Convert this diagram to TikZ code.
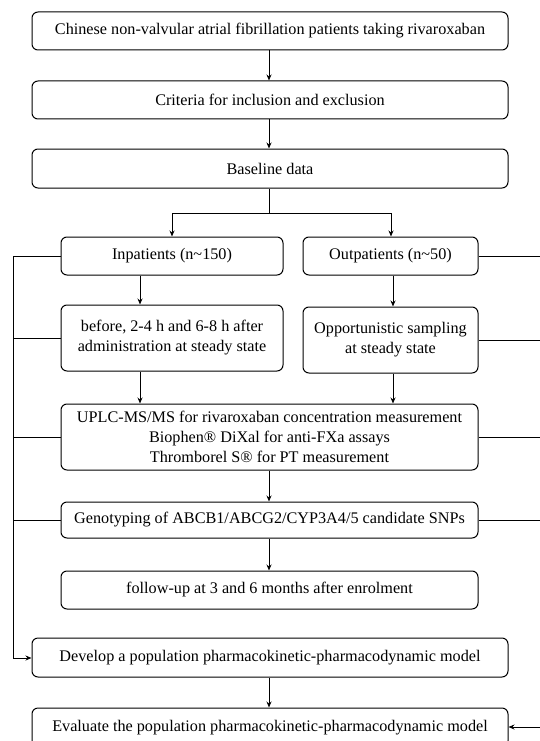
\documentclass[tikz,border=0pt]{standalone}
\usepackage{fontspec}
\setmainfont{Liberation Serif}
\usetikzlibrary{arrows.meta}
\begin{document}
\begin{tikzpicture}[x=1pt,y=-1pt,
  box/.style={draw, line width=1pt, rounded corners=6pt, align=center, inner sep=0pt,
    font=\fontsize{16.2}{20}\selectfont},
  conn/.style={line width=1pt},
  arr/.style={line width=1pt, -{Stealth[length=6pt,width=5pt]}}]
\useasboundingbox (0,0) rectangle (539,741);
\node[box, minimum width=476pt, minimum height=38pt] (b1) at (270,31) {Chinese non-valvular atrial fibrillation patients taking rivaroxaban};
\node[box, minimum width=476pt, minimum height=38pt] (b2) at (270,100) {Criteria for inclusion and exclusion};
\node[box, minimum width=476pt, minimum height=39pt] (b3) at (270,168.5) {Baseline data};
\node[box, minimum width=222pt, minimum height=38pt] (inp) at (172,256) {Inpatients (n\textasciitilde150)};
\node[box, minimum width=175pt, minimum height=38pt] (outp) at (390.5,256) {Outpatients (n\textasciitilde50)};
\node[box, minimum width=222pt, minimum height=66pt] (bef) at (172,338) {before, 2-4 h and 6-8 h after\\administration at steady state};
\node[box, minimum width=175pt, minimum height=66pt] (opp) at (390.5,340) {Opportunistic sampling\\at steady state};
\node[box, minimum width=417pt, minimum height=66pt] (uplc) at (269.5,437) {UPLC-MS/MS for rivaroxaban concentration measurement\\Biophen® DiXal for anti-FXa assays\\Thromborel S® for PT measurement};
\node[box, minimum width=417pt, minimum height=36pt] (geno) at (269.5,520) {Genotyping of ABCB1/ABCG2/CYP3A4/5 candidate SNPs};
\node[box, minimum width=417pt, minimum height=38pt] (fol) at (269.5,590) {follow-up at 3 and 6 months after enrolment};
\node[box, minimum width=476pt, minimum height=39pt] (dev) at (270,657.5) {Develop a population pharmacokinetic-pharmacodynamic model};
\node[box, minimum width=476pt, minimum height=39pt] (eva) at (270,727.5) {Evaluate the population pharmacokinetic-pharmacodynamic model};
% coordinates
\coordinate (split) at (269,213);
\coordinate (L1) at (13,256);
\coordinate (L2) at (13,658);
\coordinate (R1) at (540,256);
\coordinate (R4) at (540,727);
% main arrows
\draw[arr] (b1.south -| split) -- (b2.north -| split);
\draw[arr] (b2.south -| split) -- (b3.north -| split);
\draw[conn] (b3.south -| split) -- (split);
\draw[arr] (split) -| (inp.north);
\draw[arr] (split) -| (outp.north -| 391,0);
\draw[arr] (inp.south -| 140,0) -- (bef.north -| 140,0);
\draw[arr] (outp.south -| 393,0) -- (opp.north -| 393,0);
\draw[arr] (bef.south -| 140,0) -- (uplc.north -| 140,0);
\draw[arr] (opp.south -| 393,0) -- (uplc.north -| 393,0);
\draw[arr] (uplc.south -| split) -- (geno.north -| split);
\draw[arr] (geno.south -| split) -- (fol.north -| split);
\draw[arr] (dev.south -| split) -- (eva.north -| split);
% left collector
\draw[conn] (inp.west) -- (L1);
\draw[arr] (L1) -- (L2) -- (dev.west |- L2);
\draw[conn] (bef.west) -- (bef.west -| L1);
\draw[conn] (uplc.west) -- (uplc.west -| L1);
\draw[conn] (geno.west) -- (geno.west -| L1);
% right collector
\draw[conn] (outp.east) -- (R1);
\draw[conn] (opp.east) -- (opp.east -| R1);
\draw[conn] (uplc.east) -- (uplc.east -| R1);
\draw[conn] (geno.east) -- (geno.east -| R1);
\draw[arr] (R4) -- (eva.east |- R4);
\end{tikzpicture}
\end{document}
